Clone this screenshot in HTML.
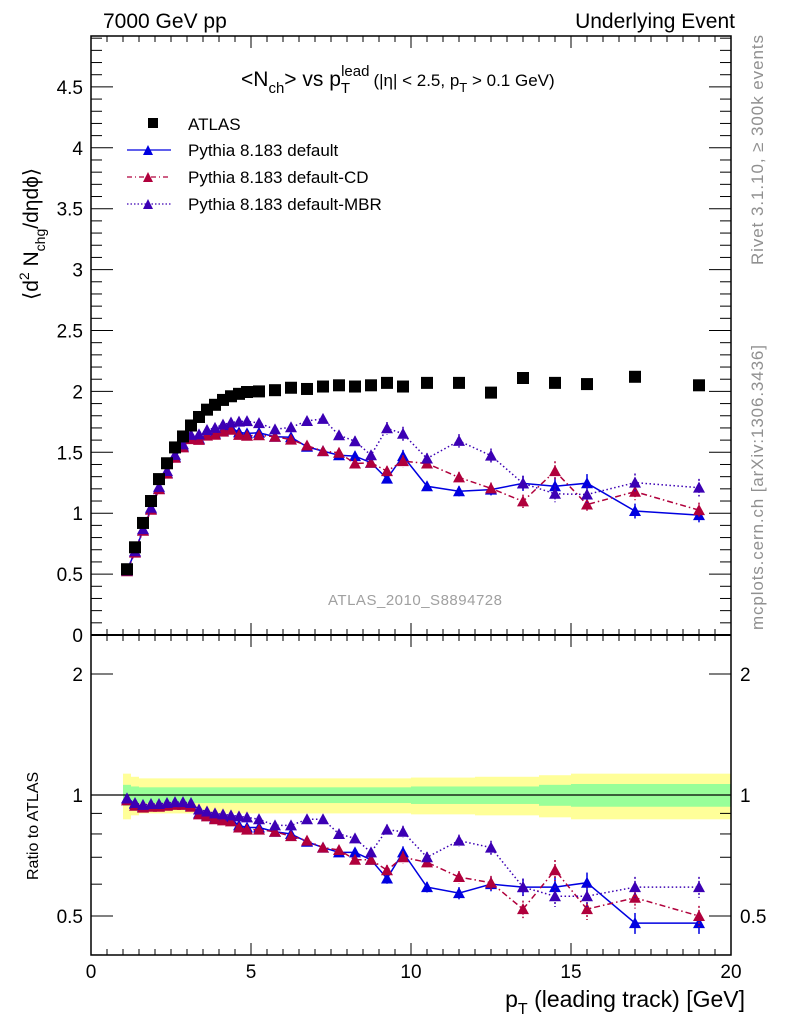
<!DOCTYPE html>
<html><head><meta charset="utf-8"><style>
html,body{margin:0;padding:0;background:#fff}
svg{display:block;font-family:"Liberation Sans",sans-serif}
</style></head><body>
<svg id="c" width="786" height="1024" xmlns="http://www.w3.org/2000/svg">
<g id="bands"></g>
<g id="axes"></g>
<g id="marks"></g>
<text x="103" y="28" font-size="21">7000 GeV pp</text>
<text x="735" y="28" font-size="21" text-anchor="end">Underlying Event</text>
<text x="241" y="86" font-size="21">&lt;N<tspan font-size="15" dy="7">ch</tspan><tspan dy="-7">&gt; vs p</tspan><tspan font-size="15" dy="7">T</tspan><tspan font-size="15" dx="-9" dy="-17">lead</tspan><tspan font-size="17" dy="10" dx="4">(|η| &lt; 2.5, p</tspan><tspan font-size="13" dy="6">T</tspan><tspan font-size="17" dy="-6"> &gt; 0.1 GeV)</tspan></text>
<g>
<rect x="148" y="118" width="10" height="10" fill="#000"/>
<text x="188" y="130" font-size="17">ATLAS</text>
<line x1="127" y1="150" x2="171" y2="150" stroke="#0000e0" stroke-width="1.3"/>
<polygon points="143,155 153,155 148,145" fill="#0000e0"/>
<text x="188" y="156" font-size="17">Pythia 8.183 default</text>
<line x1="127" y1="177" x2="171" y2="177" stroke="#b0003c" stroke-width="1.3" stroke-dasharray="5,3,1,3"/>
<polygon points="143,182 153,182 148,172" fill="#b0003c"/>
<text x="188" y="183" font-size="17">Pythia 8.183 default-CD</text>
<line x1="127" y1="204" x2="171" y2="204" stroke="#3c00b4" stroke-width="1.3" stroke-dasharray="1.5,2"/>
<polygon points="143,209 153,209 148,199" fill="#3c00b4"/>
<text x="188" y="210" font-size="17">Pythia 8.183 default-MBR</text>
</g>
<text x="328" y="605" font-size="15" fill="#a0a0a0" textLength="174">ATLAS_2010_S8894728</text>
<text transform="translate(763,265) rotate(-90)" font-size="17" fill="#909090" textLength="230">Rivet 3.1.10, ≥ 300k events</text>
<text transform="translate(763,630) rotate(-90)" font-size="17" fill="#909090" textLength="285">mcplots.cern.ch [arXiv:1306.3436]</text>
<text transform="translate(38,300) rotate(-90)" font-size="21">⟨d<tspan font-size="14" dy="-9">2</tspan><tspan dy="9"> N</tspan><tspan font-size="14" dy="7">chg</tspan><tspan dy="-7">/dηdϕ⟩</tspan></text>
<text transform="translate(38,880) rotate(-90)" font-size="16">Ratio to ATLAS</text>
<text x="745" y="1007" font-size="23" text-anchor="end">p<tspan font-size="16" dy="7">T</tspan><tspan dy="-7"> (leading track) [GeV]</tspan></text>
</svg>
<script>
const xCenters=[1.125,1.375,1.625,1.875,2.125,2.375,2.625,2.875,3.125,3.375,3.625,3.875,4.125,4.375,4.625,4.875,5.25,5.75,6.25,6.75,7.25,7.75,8.25,8.75,9.25,9.75,10.5,11.5,12.5,13.5,14.5,15.5,17,19];
const xLow=[1,1.25,1.5,1.75,2,2.25,2.5,2.75,3,3.25,3.5,3.75,4,4.25,4.5,4.75,5,5.5,6,6.5,7,7.5,8,8.5,9,9.5,10,11,12,13,14,15,16,18];
const xHigh=[1.25,1.5,1.75,2,2.25,2.5,2.75,3,3.25,3.5,3.75,4,4.25,4.5,4.75,5,5.5,6,6.5,7,7.5,8,8.5,9,9.5,10,11,12,13,14,15,16,18,20];
const atlas=[0.54,0.72,0.92,1.10,1.28,1.41,1.54,1.63,1.72,1.79,1.85,1.89,1.93,1.96,1.98,1.995,2.0,2.01,2.03,2.02,2.04,2.05,2.04,2.05,2.07,2.04,2.07,2.07,1.99,2.11,2.07,2.06,2.12,2.05];
const atlasTotErr=[0.13,0.11,0.1,0.1,0.1,0.1,0.1,0.1,0.1,0.1,0.1,0.1,0.1,0.1,0.1,0.1,0.1,0.1,0.1,0.1,0.1,0.1,0.1,0.1,0.1,0.1,0.105,0.105,0.11,0.11,0.12,0.13,0.13,0.13];
const atlasStatErr=[0.06,0.05,0.045,0.045,0.045,0.045,0.045,0.045,0.045,0.045,0.045,0.045,0.045,0.045,0.045,0.045,0.045,0.045,0.045,0.045,0.045,0.045,0.045,0.045,0.045,0.045,0.05,0.05,0.05,0.05,0.06,0.065,0.065,0.065];
const ratioDefault=[0.98,0.95,0.935,0.94,0.94,0.945,0.95,0.95,0.94,0.90,0.89,0.875,0.87,0.87,0.84,0.83,0.83,0.81,0.80,0.765,0.74,0.72,0.72,0.69,0.62,0.72,0.59,0.57,0.60,0.59,0.59,0.605,0.48,0.48];
const ratioCD=[0.97,0.94,0.93,0.935,0.935,0.94,0.945,0.945,0.935,0.895,0.885,0.87,0.865,0.86,0.83,0.82,0.82,0.81,0.79,0.77,0.74,0.73,0.69,0.69,0.65,0.70,0.68,0.625,0.605,0.52,0.65,0.52,0.555,0.50];
const ratioMBR=[0.98,0.955,0.945,0.95,0.95,0.955,0.96,0.96,0.955,0.92,0.91,0.90,0.895,0.89,0.885,0.88,0.87,0.84,0.84,0.87,0.87,0.80,0.78,0.72,0.82,0.81,0.70,0.77,0.74,0.59,0.56,0.56,0.59,0.59];
const mcErr=[0.01,0.01,0.01,0.01,0.01,0.01,0.01,0.01,0.01,0.01,0.01,0.01,0.01,0.01,0.012,0.012,0.015,0.015,0.015,0.02,0.02,0.02,0.025,0.025,0.03,0.035,0.03,0.035,0.04,0.05,0.06,0.06,0.06,0.06];
const yTicksMain=[0,0.5,1,1.5,2,2.5,3,3.5,4,4.5];
const xTicks=[0,5,10,15,20];
const ratioTicks=[0.5,1,2];

const NS="http://www.w3.org/2000/svg";
const L=91,R=731,MT=36,MB=635,RB=955;
const X=v=>L+v*32;
const Y=v=>MB-v*121.8;
const RY=v=>795-Math.log2(v)*121;
function mk(parent,tag,attrs){const e=document.createElementNS(NS,tag);for(const k in attrs)e.setAttribute(k,attrs[k]);document.getElementById(parent).appendChild(e);return e;}
for(let i=0;i<xCenters.length;i++){
 const b=mk('bands','rect',{x:X(xLow[i]),width:X(xHigh[i])-X(xLow[i]),y:RY(1+atlasTotErr[i]),height:RY(1-atlasTotErr[i])-RY(1+atlasTotErr[i]),fill:'#ffff99'});
 
 
 const g=mk('bands','rect',{x:X(xLow[i]),width:X(xHigh[i])-X(xLow[i]),y:RY(1+atlasStatErr[i]),height:RY(1-atlasStatErr[i])-RY(1+atlasStatErr[i]),fill:'#99ff99'});
 
 
}
const frame=mk('axes','rect',{x:L,y:MT,width:R-L,height:RB-MT,fill:'none',stroke:'#000','stroke-width':1.5});


mk('axes','line',{x1:L,x2:R,y1:MB,y2:MB,stroke:'#000','stroke-width':2});
mk('axes','line',{x1:L,x2:R,y1:RY(1),y2:RY(1),stroke:'#000','stroke-width':1.2});
for(let v=0;v<=20.001;v+=0.5){
 const maj=Math.abs(v%5)<1e-6, len=maj?12:6;
 const x=X(v);
 mk('axes','line',{x1:x,x2:x,y1:MT,y2:MT+len,stroke:'#000','stroke-width':1});
 mk('axes','line',{x1:x,x2:x,y1:MB-len,y2:MB+len,stroke:'#000','stroke-width':1});
 mk('axes','line',{x1:x,x2:x,y1:RB,y2:RB-len,stroke:'#000','stroke-width':1});
}
xTicks.forEach(v=>{const t=mk('axes','text',{x:X(v),y:978,'font-size':19,'text-anchor':'middle'});t.textContent=v;
 
 });
for(let k=0;k<=49;k++){const v=k/10,y=Y(v);if(y<MT)break;const maj=k%5===0,len=maj?22:11;
 mk('axes','line',{x1:L,x2:L+len,y1:y,y2:y,stroke:'#000','stroke-width':1});
 mk('axes','line',{x1:R,x2:R-len,y1:y,y2:y,stroke:'#000','stroke-width':1});}
yTicksMain.forEach(v=>{const t=mk('axes','text',{x:83,y:Y(v)+7,'font-size':19,'text-anchor':'end'});t.textContent=v;
 
 });
[0.4,0.5,0.6,0.7,0.8,0.9,1,2].forEach(v=>{const y=RY(v);if(y>RB||y<MB)return;const maj=ratioTicks.includes(v),len=maj?22:11;
 mk('axes','line',{x1:L,x2:L+len,y1:y,y2:y,stroke:'#000','stroke-width':1});
 mk('axes','line',{x1:R,x2:R-len,y1:y,y2:y,stroke:'#000','stroke-width':1});});
ratioTicks.forEach(v=>{[[83,'end'],[740,'start']].forEach(([x,a])=>{const t=mk('axes','text',{x:x,y:RY(v)+7,'font-size':19,'text-anchor':a});t.textContent=v;
 
 });});
const series=[[ratioDefault,'#0000e0','none','default'],[ratioCD,'#b0003c','6,3,1.5,3','default-cd'],[ratioMBR,'#3c00b4','1.5,2.5','default-mbr']];
series.forEach(([r,col,dash,name])=>{
 const main=r.map((v,i)=>v*atlas[i]);
 const p1=mk('marks','polyline',{points:main.map((v,i)=>X(xCenters[i])+','+Y(v)).join(' '),fill:'none',stroke:col,'stroke-width':1.5,'stroke-dasharray':dash});
 
 
 const p2=mk('marks','polyline',{points:r.map((v,i)=>X(xCenters[i])+','+RY(v)).join(' '),fill:'none',stroke:col,'stroke-width':1.5,'stroke-dasharray':dash});
 
 
 r.forEach((v,i)=>{
  const x=X(xCenters[i]);
  [[Y(v*atlas[i]),Y(v*atlas[i]*(1+mcErr[i])),Y(v*atlas[i]*(1-mcErr[i]))],[RY(v),RY(v*(1+mcErr[i])),RY(v*(1-mcErr[i]))]].forEach(([y,yu,yl])=>{
   mk('marks','line',{x1:x,x2:x,y1:yu,y2:yl,stroke:col,'stroke-width':1.5,'stroke-dasharray':dash==='none'?'none':'2,2'});
   const t=mk('marks','polygon',{points:`${x-6},${y+5} ${x+6},${y+5} ${x},${y-6}`,fill:col});
   
   
  });
 });
});
atlas.forEach((v,i)=>{const s=mk('marks','rect',{x:X(xCenters[i])-6,y:Y(v)-6,width:12,height:12,fill:'#000'});
 
 });
</script>
</body></html>
